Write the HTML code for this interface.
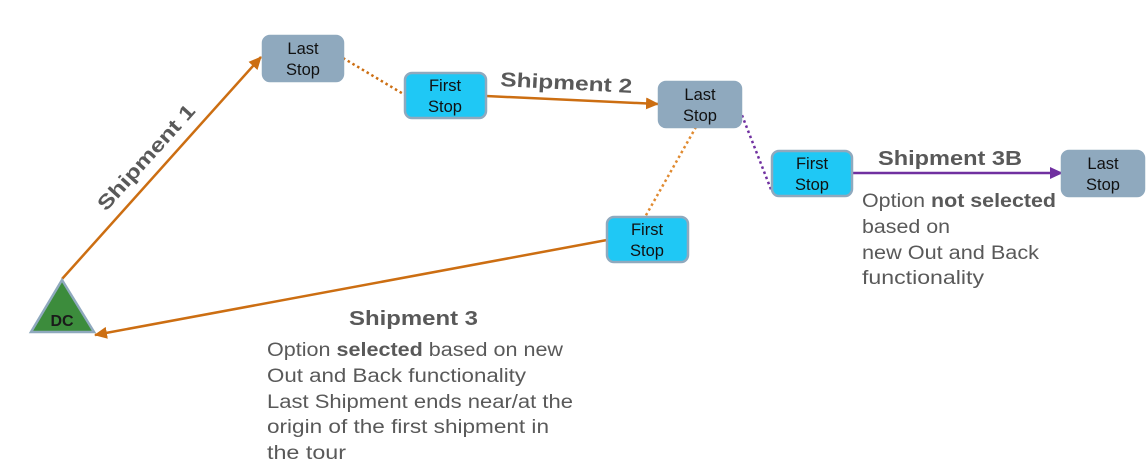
<!DOCTYPE html>
<html><head><meta charset="utf-8"><style>
html,body{margin:0;padding:0;background:#fff;}
svg{display:block;font-family:"Liberation Sans",sans-serif;}
.b{font-size:16.5px;fill:#111;text-anchor:middle;}
.t{font-size:20px;font-weight:bold;fill:#595959;}
.p{font-size:19px;fill:#595959;}
</style></head><body>
<svg width="1148" height="471" viewBox="0 0 1148 471">
<defs>
<marker id="ao" markerWidth="13" markerHeight="12" refX="12" refY="6" orient="auto" markerUnits="userSpaceOnUse" viewBox="0 0 13 12"><path d="M0,0 L13,6 L0,12 z" fill="#CC6E12"/></marker>
<marker id="ap" markerWidth="13" markerHeight="12" refX="12" refY="6" orient="auto" markerUnits="userSpaceOnUse" viewBox="0 0 13 12"><path d="M0,0 L13,6 L0,12 z" fill="#7030A0"/></marker>
</defs>
<g stroke-width="2.5" fill="none">
<line x1="62" y1="279" x2="261" y2="57" stroke="#CC6E12" marker-end="url(#ao)"/>
<line x1="343" y1="58" x2="405" y2="95" stroke="#CC6E12" stroke-dasharray="2.5,3"/>
<line x1="486" y1="96" x2="658" y2="104" stroke="#CC6E12" marker-end="url(#ao)"/>
<line x1="696" y1="127" x2="645" y2="217" stroke="#E08A30" stroke-dasharray="2.5,3"/>
<line x1="738" y1="105" x2="772" y2="192" stroke="#7030A0" stroke-dasharray="2.5,3"/>
<line x1="852" y1="173" x2="1062" y2="173" stroke="#7030A0" marker-end="url(#ap)"/>
<line x1="607" y1="240" x2="95" y2="335" stroke="#CC6E12" marker-end="url(#ao)"/>
</g>
<polygon points="62,280 31,332 94,332" fill="#3C8C3C" stroke="#8FA9BE" stroke-width="2.5"/>
<text x="62" y="326" font-size="16" font-weight="bold" fill="#1a1a1a" text-anchor="middle">DC</text>
<g stroke-width="2.5">
<rect x="263" y="36" width="80" height="45" rx="7" fill="#8FA9BE" stroke="#8FA9BE"/>
<rect x="405" y="73" width="81" height="45" rx="7" fill="#1FC8F5" stroke="#8FA9BE"/>
<rect x="659" y="82" width="82" height="45" rx="7" fill="#8FA9BE" stroke="#8FA9BE"/>
<rect x="607" y="217" width="81" height="45" rx="7" fill="#1FC8F5" stroke="#8FA9BE"/>
<rect x="772" y="151" width="80" height="45" rx="7" fill="#1FC8F5" stroke="#8FA9BE"/>
<rect x="1062" y="151" width="82" height="45" rx="7" fill="#8FA9BE" stroke="#8FA9BE"/>
</g>
<text class="b" x="303" y="54">Last</text><text class="b" x="303" y="75">Stop</text>
<text class="b" x="445" y="91">First</text><text class="b" x="445" y="112">Stop</text>
<text class="b" x="700" y="100">Last</text><text class="b" x="700" y="121">Stop</text>
<text class="b" x="647" y="235">First</text><text class="b" x="647" y="256">Stop</text>
<text class="b" x="812" y="169">First</text><text class="b" x="812" y="190">Stop</text>
<text class="b" x="1103" y="169">Last</text><text class="b" x="1103" y="190">Stop</text>
<text class="t" transform="translate(106,212) rotate(-48)" textLength="135" lengthAdjust="spacingAndGlyphs">Shipment 1</text>
<text class="t" transform="translate(500,86) rotate(3)" textLength="132" lengthAdjust="spacingAndGlyphs">Shipment 2</text>
<text class="t" x="349" y="325" textLength="129" lengthAdjust="spacingAndGlyphs">Shipment 3</text>
<text class="t" x="878" y="165" textLength="144" lengthAdjust="spacingAndGlyphs">Shipment 3B</text>
<g class="p">
<text x="267" y="356" textLength="296" lengthAdjust="spacingAndGlyphs">Option <tspan font-weight="bold">selected</tspan> based on new</text>
<text x="267" y="382" textLength="259" lengthAdjust="spacingAndGlyphs">Out and Back functionality</text>
<text x="267" y="408" textLength="306" lengthAdjust="spacingAndGlyphs">Last Shipment ends near/at the</text>
<text x="267" y="433" textLength="282" lengthAdjust="spacingAndGlyphs">origin of the first shipment in</text>
<text x="267" y="459" textLength="79" lengthAdjust="spacingAndGlyphs">the tour</text>
<text x="862" y="207" textLength="194" lengthAdjust="spacingAndGlyphs">Option <tspan font-weight="bold">not selected</tspan></text>
<text x="862" y="233" textLength="88" lengthAdjust="spacingAndGlyphs">based on</text>
<text x="862" y="259" textLength="177" lengthAdjust="spacingAndGlyphs">new Out and Back</text>
<text x="862" y="284" textLength="122" lengthAdjust="spacingAndGlyphs">functionality</text>
</g>
</svg>
</body></html>
